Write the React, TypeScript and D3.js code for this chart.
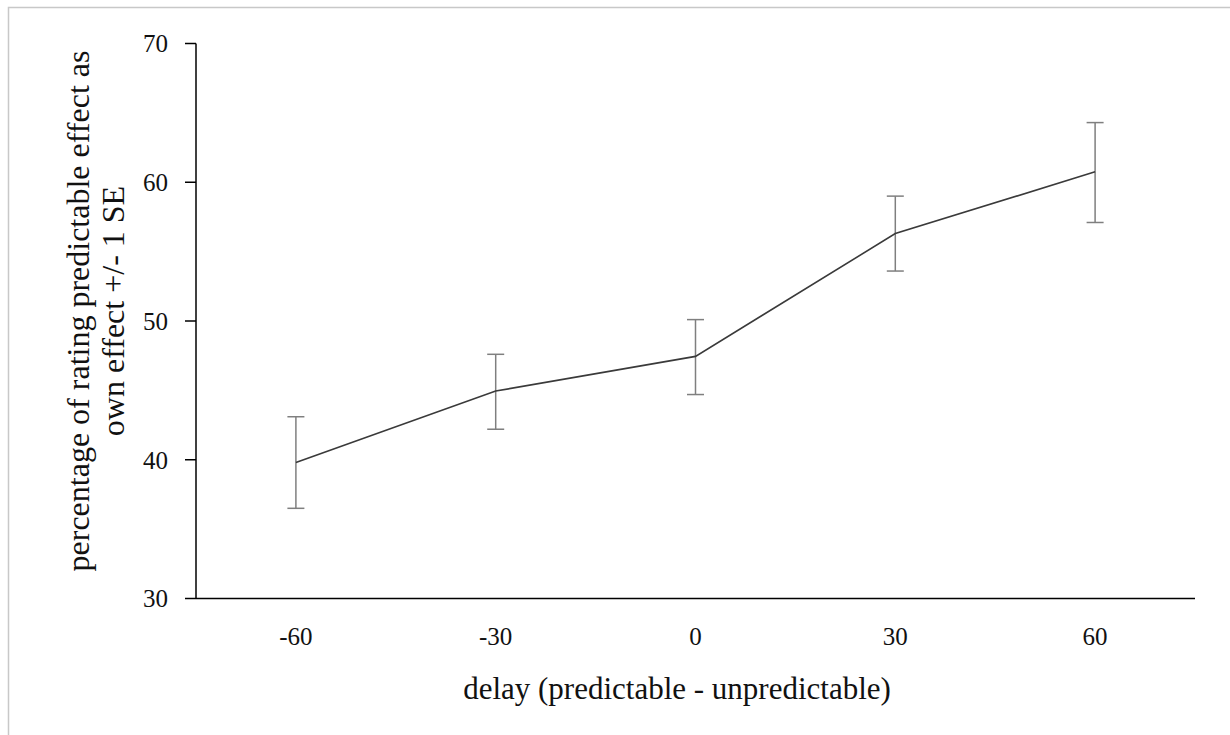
import React from 'react';
import * as d3 from 'd3';

// delay conditions (predictable - unpredictable)
const delays = ['-60', '-30', '0', '30', '60'];
// mean percentage of rating predictable effect as own effect
const means = [39.8, 44.95, 47.45, 56.3, 60.75];
// +/- 1 SE bounds
const upper = [43.1, 47.6, 50.1, 59.0, 64.3];
const lower = [36.5, 42.2, 44.7, 53.6, 57.1];
const yTicks = [30, 40, 50, 60, 70];

const W = 1230, H = 735;
const left = 196, right = 1195, top = 43.5, bottom = 598.5;
const font = '"Liberation Serif", "Times New Roman", serif';

export default function App() {
    const x = d3.scaleBand().domain(delays).range([left, right]);
    const y = d3.scaleLinear().domain([30, 70]).range([bottom, top]);
    const cx = (d: string) => (x(d) as number) + x.bandwidth() / 2;

    const line = d3.line<number>()
        .x((_, i) => cx(delays[i]))
        .y(d => y(d));

    return (
        <svg width={W} height={H} style={{ position: 'absolute', left: 0, top: 0, background: '#fff' }}>
            <rect x={8.5} y={7.5} width={W + 20} height={H + 20} fill="none" stroke="#c8c8c8" strokeWidth={1.5} />

            {/* y axis */}
            <line x1={left} x2={left} y1={top} y2={bottom} stroke="#000" strokeWidth={1.5} />
            {yTicks.map(t =>
                <g key={t}>
                    <line x1={left - 11} x2={left} y1={y(t)} y2={y(t)} stroke="#000" strokeWidth={1.5} />
                    <text x={168} y={y(t)} dy="0.35em" textAnchor="end" fontFamily={font} fontSize={25} fill="#111">{t}</text>
                </g>
            )}

            {/* x axis */}
            <line x1={left} x2={right} y1={bottom} y2={bottom} stroke="#000" strokeWidth={1.5} />
            {delays.map(d =>
                <text key={d} x={cx(d)} y={636} dy="0.35em" textAnchor="middle" fontFamily={font} fontSize={25} fill="#111">{d}</text>
            )}

            {/* error bars */}
            {delays.map((d, i) =>
                <g key={d} stroke="#7f7f7f" strokeWidth={1.5}>
                    <line x1={cx(d)} x2={cx(d)} y1={y(upper[i])} y2={y(lower[i])} />
                    <line x1={cx(d) - 8.5} x2={cx(d) + 8.5} y1={y(upper[i])} y2={y(upper[i])} />
                    <line x1={cx(d) - 8.5} x2={cx(d) + 8.5} y1={y(lower[i])} y2={y(lower[i])} />
                </g>
            )}

            <path d={line(means) || ''} fill="none" stroke="#3a3a3a" strokeWidth={1.6} />

            {/* axis titles */}
            <text transform="translate(78,311) rotate(-90)" dy="0.35em" textAnchor="middle" fontFamily={font} fontSize={32} fill="#111">
                percentage of rating predictable effect as
            </text>
            <text transform="translate(113,311) rotate(-90)" dy="0.35em" textAnchor="middle" fontFamily={font} fontSize={32} fill="#111">
                own effect +/- 1 SE
            </text>
            <text x={677} y={688} dy="0.35em" textAnchor="middle" fontFamily={font} fontSize={31} fill="#111">
                delay (predictable - unpredictable)
            </text>
        </svg>
    );
}
